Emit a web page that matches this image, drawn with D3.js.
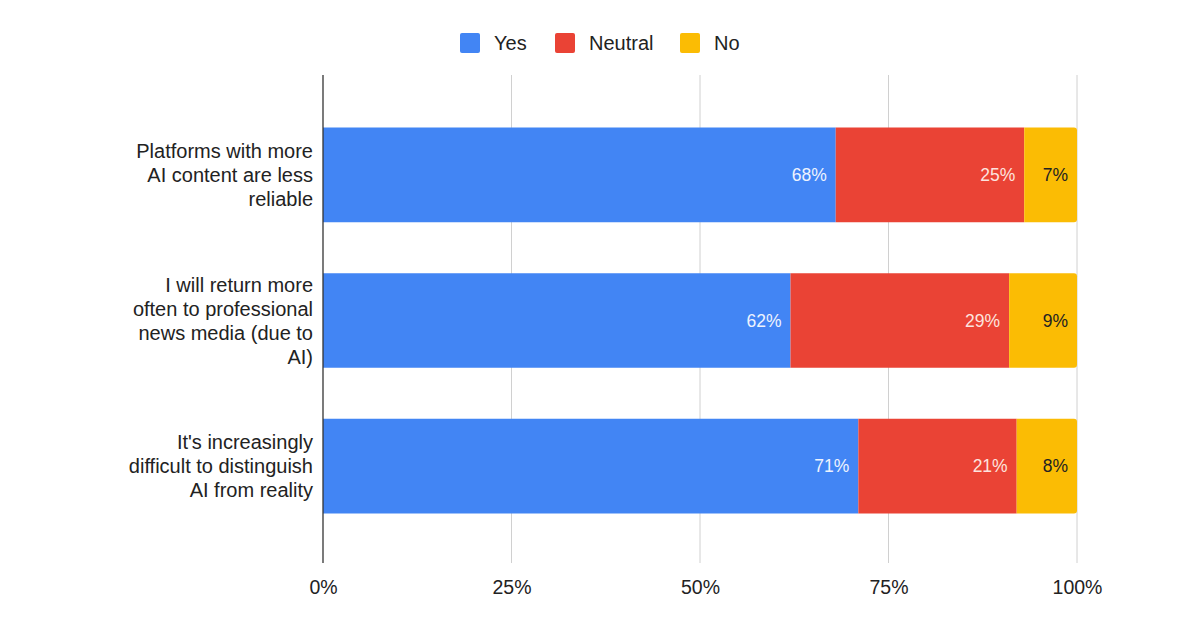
<!DOCTYPE html>
<html>
<head>
<meta charset="utf-8">
<script src="https://cdn.jsdelivr.net/npm/d3@7"></script>
<style>
  body { margin: 0; background: #fff; }
  svg { font-family: "Liberation Sans", Arial, sans-serif; }
</style>
</head>
<body>
<svg id="chart" width="1200" height="630"></svg>
<script>
// data
const categories = [
  ["Platforms with more", "AI content are less", "reliable"],
  ["I will return more", "often to professional", "news media (due to", "AI)"],
  ["It's increasingly", "difficult to distinguish", "AI from reality"]
];
const seriesNames = ["Yes", "Neutral", "No"];
const yesValues = [68, 62, 71];
const neutralValues = [25, 29, 21];
const noValues = [7, 9, 8];
const tickValues = [0, 25, 50, 75, 100];

const colors = ["#4285F4", "#EA4335", "#FBBC04"];
const labelColors = ["#eef3fe", "#fde3df", "#222222"];

const svg = d3.select("#chart");
const margin = { top: 75, right: 123, bottom: 67, left: 323 };
const width = 1200 - margin.left - margin.right;
const height = 630 - margin.top - margin.bottom;

const rows = categories.map((c, i) => ({
  idx: i, lines: c,
  Yes: yesValues[i], Neutral: neutralValues[i], No: noValues[i]
}));
const stacked = d3.stack().keys(seriesNames)(rows);

const x = d3.scaleLinear().domain([0, 100]).range([0, width]);
const y = d3.scaleBand().domain(d3.range(rows.length)).range([1.5, height + 1.5])
  .paddingInner(0.35).paddingOuter(0.35);

const g = svg.append("g").attr("transform", `translate(${margin.left},${margin.top})`);

// gridlines
g.selectAll(".grid")
  .data(tickValues.slice(1))
  .join("line")
  .attr("class", "grid")
  .attr("x1", d => x(d)).attr("x2", d => x(d))
  .attr("y1", 0).attr("y2", height)
  .attr("stroke", "#d0d0d0").attr("stroke-width", 1);

// bars
const layers = g.selectAll(".layer")
  .data(stacked)
  .join("g")
  .attr("class", "layer")
  .attr("fill", (d, i) => colors[i]);

layers.selectAll("path")
  .data((d, li) => d.map(s => ({ s, li })))
  .join("path")
  .attr("d", ({ s, li }) => {
    const x0 = x(s[0]), x1 = x(s[1]);
    const y0 = y(s.data.idx), h = y.bandwidth();
    const r = li === seriesNames.length - 1 ? 3 : 0;
    return `M${x0},${y0}H${x1 - r}Q${x1},${y0} ${x1},${y0 + r}V${y0 + h - r}Q${x1},${y0 + h} ${x1 - r},${y0 + h}H${x0}Z`;
  });

// value labels
layers.selectAll("text")
  .data((d, li) => d.map(s => ({ s, li })))
  .join("text")
  .attr("x", ({ s }) => x(s[1]) - 9)
  .attr("y", ({ s }) => y(s.data.idx) + y.bandwidth() / 2)
  .attr("dy", "0.35em")
  .attr("text-anchor", "end")
  .attr("font-size", 17.5)
  .attr("fill", ({ li }) => labelColors[li])
  .text(({ s }) => (s[1] - s[0]) + "%");

// y axis line
g.append("line")
  .attr("x1", 0).attr("x2", 0).attr("y1", 0).attr("y2", height)
  .attr("stroke", "#333").attr("stroke-width", 1.3);

// category labels
const lineH = 24;
g.selectAll(".cat")
  .data(rows)
  .join("text")
  .attr("class", "cat")
  .attr("text-anchor", "end")
  .attr("font-size", 20)
  .attr("fill", "#222")
  .each(function (d) {
    const cy = y(d.idx) + y.bandwidth() / 2;
    const startY = cy - (d.lines.length - 1) * lineH / 2;
    d3.select(this).selectAll("tspan")
      .data(d.lines)
      .join("tspan")
      .attr("x", -10)
      .attr("y", (l, j) => startY + j * lineH)
      .attr("dy", "0.35em")
      .text(l => l);
  });

// x axis
const xAxis = g.append("g")
  .attr("transform", `translate(0,${height})`)
  .call(d3.axisBottom(x).tickValues(tickValues).tickFormat(d => d + "%").tickSize(0).tickPadding(17));
xAxis.select(".domain").remove();
xAxis.selectAll("text").attr("font-size", 19.5).attr("fill", "#222").attr("font-family", "Liberation Sans, Arial, sans-serif");

// legend
const legendX = [460, 555, 680];
const legend = svg.append("g").selectAll("g")
  .data(seriesNames)
  .join("g")
  .attr("transform", (d, i) => `translate(${legendX[i]},33)`);
legend.append("rect")
  .attr("width", 20).attr("height", 20).attr("rx", 2)
  .attr("fill", (d, i) => colors[i]);
legend.append("text")
  .attr("x", 34).attr("y", 10).attr("dy", "0.35em")
  .attr("font-size", 20).attr("fill", "#222")
  .text(d => d);
</script>
</body>
</html>
